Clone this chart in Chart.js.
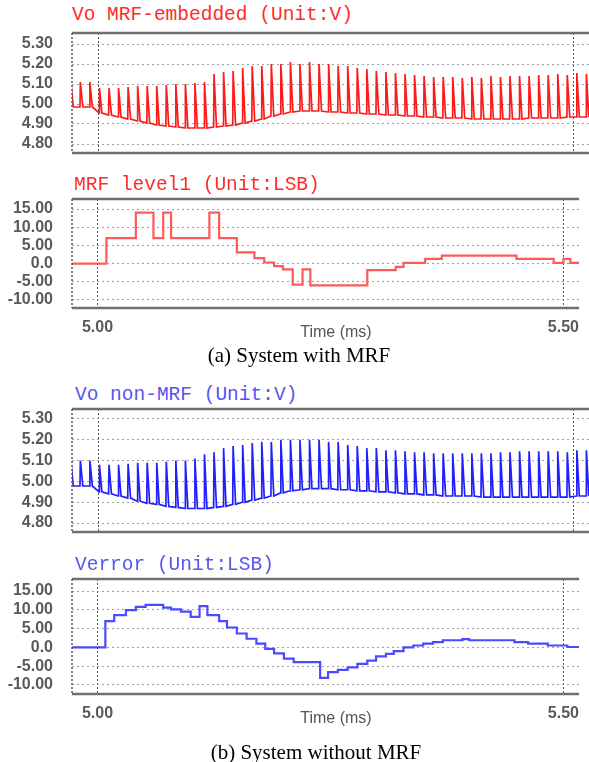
<!DOCTYPE html>
<html>
<head>
<meta charset="utf-8">
<script src="https://cdn.jsdelivr.net/npm/chart.js@4.4.1/dist/chart.umd.min.js"></script>
<style>
  body { margin: 0; background: #fff; }
  #page { position: relative; width: 589px; height: 762px; overflow: hidden; }
  canvas { position: absolute; left: 0; }
  .ttl { position: absolute; font-family: "Liberation Mono", "Courier New", monospace; font-size: 19.5px; line-height: 1; white-space: pre; }
  .red { color: #ff2b2b; }
  .blue { color: #5555f0; }
  .xname { position: absolute; font-family: "Liberation Sans", Arial, sans-serif; font-size: 16px; color: #555; transform: translate(-50%, -50%); white-space: nowrap; }
  .cap { position: absolute; font-family: "Liberation Serif", "Times New Roman", serif; font-size: 21px; color: #000; transform: translate(-50%, -50%); white-space: nowrap; }
</style>
</head>
<body>
<div id="page">
  <div class="ttl red" style="left:72px; top:6px;">Vo MRF-embedded (Unit:V)</div>
  <canvas id="vMrf" width="589" height="180" style="top:3px"></canvas>

  <div class="ttl red" style="left:74px; top:176px;">MRF level1 (Unit:LSB)</div>
  <canvas id="mrfLvl" width="589" height="169" style="top:169px"></canvas>
  <div class="xname" style="left:336px; top:332px;">Time (ms)</div>
  <div class="cap" style="left:299px; top:355px;">(a) System with MRF</div>

  <div class="ttl blue" style="left:75px; top:386px;">Vo non-MRF (Unit:V)</div>
  <canvas id="vPlain" width="589" height="183" style="top:379px"></canvas>

  <div class="ttl blue" style="left:75px; top:556px;">Verror (Unit:LSB)</div>
  <canvas id="vErr" width="589" height="175" style="top:549px"></canvas>
  <div class="xname" style="left:336px; top:718px;">Time (ms)</div>
  <div class="cap" style="left:316px; top:752px;">(b) System without MRF</div>
</div>

<script>
// time window and ticks (ms)
const xRange = [4.9726, 5.5168];
const xTicks = [5.00, 5.50];
const voTicks = [5.30, 5.20, 5.10, 5.00, 4.90, 4.80];
const lsbTicks = [15, 10, 5, 0, -5, -10];

// switching cycles of Vo: first edge and period (ms)
const cycleStart = 4.97095;
const cyclePeriod = 0.01005;

// ripple peak / valley per switching cycle (V)
const voMrfPeak = [5.11, 5.11, 5.11, 5.08, 5.08, 5.08, 5.085, 5.09, 5.09, 5.09,
  5.095, 5.10, 5.10, 5.105, 5.11, 5.15, 5.16, 5.165, 5.18, 5.19,
  5.19, 5.20, 5.20, 5.21, 5.20, 5.21, 5.20, 5.20, 5.19, 5.19,
  5.18, 5.175, 5.165, 5.16, 5.155, 5.15, 5.145, 5.14, 5.135, 5.135,
  5.135, 5.13, 5.135, 5.13, 5.14, 5.135, 5.14, 5.14, 5.14, 5.145,
  5.145, 5.15, 5.145, 5.155, 5.15];
const voMrfValley = [4.985, 4.985, 4.985, 4.955, 4.945, 4.935, 4.925, 4.915, 4.905, 4.895,
  4.89, 4.885, 4.88, 4.88, 4.88, 4.885, 4.89, 4.895, 4.905, 4.915,
  4.925, 4.94, 4.95, 4.96, 4.965, 4.965, 4.965, 4.96, 4.96, 4.955,
  4.955, 4.95, 4.95, 4.945, 4.945, 4.94, 4.94, 4.935, 4.935, 4.93,
  4.93, 4.93, 4.925, 4.925, 4.925, 4.925, 4.925, 4.925, 4.93, 4.93,
  4.93, 4.93, 4.935, 4.935, 4.935];
const voPlainPeak = [5.10, 5.10, 5.10, 5.08, 5.08, 5.08, 5.085, 5.09, 5.09, 5.09,
  5.095, 5.10, 5.10, 5.11, 5.13, 5.14, 5.16, 5.17, 5.175, 5.185,
  5.19, 5.19, 5.20, 5.20, 5.20, 5.20, 5.20, 5.19, 5.19, 5.175,
  5.17, 5.16, 5.16, 5.15, 5.15, 5.145, 5.14, 5.14, 5.135, 5.135,
  5.135, 5.135, 5.135, 5.135, 5.135, 5.14, 5.14, 5.145, 5.145, 5.145,
  5.145, 5.145, 5.14, 5.15, 5.15];
const voPlainValley = [4.978, 4.978, 4.978, 4.95, 4.94, 4.93, 4.92, 4.905, 4.895, 4.89,
  4.88, 4.875, 4.87, 4.87, 4.87, 4.875, 4.88, 4.89, 4.90, 4.91,
  4.92, 4.93, 4.945, 4.955, 4.96, 4.965, 4.965, 4.965, 4.96, 4.96,
  4.955, 4.955, 4.95, 4.95, 4.945, 4.94, 4.94, 4.935, 4.935, 4.93,
  4.93, 4.93, 4.93, 4.925, 4.925, 4.925, 4.925, 4.925, 4.925, 4.925,
  4.925, 4.925, 4.925, 4.93, 4.93];

// MRF level1 steps: change time (ms) and level (LSB)
const mrfTime = [4.97, 5.0095, 5.0411, 5.06, 5.0705, 5.0789, 5.12, 5.1305, 5.1495, 5.1684,
  5.1789, 5.1895, 5.1989, 5.2095, 5.22, 5.2284, 5.2895, 5.32, 5.3284, 5.3516,
  5.3695, 5.4495, 5.4895, 5.50, 5.5074, 5.52];
const mrfLevel = [0, 7, 14, 7, 14, 7, 14, 7, 3.1, 1.5,
  0.3, -0.7, -1.6, -5.8, -1.6, -6.0, -1.8, -0.9, 0.2, 1.3,
  2.2, 1.3, 0.2, 1.3, 0.2, 0.2];

// Verror steps: change time (ms) and level (LSB)
const errTime = [4.97, 5.0084, 5.0179, 5.0305, 5.0411, 5.0516, 5.0705, 5.0789, 5.0895, 5.10,
  5.1095, 5.1179, 5.1305, 5.1389, 5.1495, 5.16, 5.1705, 5.18, 5.1895, 5.20,
  5.2105, 5.2389, 5.2474, 5.2579, 5.2684, 5.2789, 5.2895, 5.2989, 5.3095, 5.3179,
  5.3284, 5.3389, 5.3495, 5.36, 5.3705, 5.3916, 5.3989, 5.4474, 5.4621, 5.4832,
  5.5042, 5.52];
const errLevel = [0, 7.0, 8.6, 9.9, 10.8, 11.3, 10.6, 10.1, 9.5, 8.1,
  11.0, 8.6, 7.0, 5.3, 3.7, 2.3, 1.0, -0.4, -1.6, -3.0,
  -3.9, -8.1, -6.6, -6.0, -5.3, -4.4, -3.5, -2.4, -1.7, -1.0,
  0, 0.5, 1.0, 1.4, 1.9, 2.2, 1.9, 1.4, 1.0, 0.5,
  0.1, 0.1];

// each cycle: sharp rise at the edge, quick fall, then flat to the next edge
function ripplePoints(peaks, valleys) {
  const pts = [];
  peaks.forEach(function(p, k) {
    const t = cycleStart + k * cyclePeriod;
    pts.push({x: t, y: valleys[k]});
    pts.push({x: t + 0.0004, y: p});
    pts.push({x: t + 0.003, y: valleys[k]});
  });
  return pts;
}

function stepPoints(times, levels) {
  return times.map(function(t, i) { return {x: t, y: levels[i]}; });
}

// plot frame: solid top/bottom rails, dotted left edge
const frame = {
  id: 'frame',
  afterDraw: function(chart) {
    const ctx = chart.ctx, a = chart.chartArea;
    ctx.save();
    ctx.strokeStyle = '#6f6f6f';
    ctx.lineWidth = 2.5;
    ctx.beginPath();
    ctx.moveTo(a.left, a.top); ctx.lineTo(a.right, a.top);
    ctx.moveTo(a.left, a.bottom); ctx.lineTo(a.right, a.bottom);
    ctx.stroke();
    ctx.strokeStyle = '#555';
    ctx.lineWidth = 1.5;
    ctx.setLineDash([2, 2]);
    ctx.beginPath();
    ctx.moveTo(a.left, a.top); ctx.lineTo(a.left, a.bottom);
    ctx.stroke();
    ctx.restore();
  }
};

const tickFont = {family: '"Liberation Sans", Arial, sans-serif', size: 16, weight: 'bold'};

function panel(id, points, color, width, stepped, yMin, yMax, yTicks, showX) {
  return new Chart(document.getElementById(id), {
    type: 'line',
    data: {
      datasets: [{
        data: points,
        borderColor: color,
        borderWidth: width,
        pointRadius: 0,
        tension: 0,
        stepped: stepped
      }]
    },
    options: {
      responsive: false,
      animation: false,
      layout: {padding: {top: 30, bottom: showX ? 0 : 30, left: 0, right: 0}},
      plugins: {legend: {display: false}, tooltip: {enabled: false}},
      scales: {
        x: {
          type: 'linear',
          min: xRange[0],
          max: xRange[1],
          afterBuildTicks: function(s) { s.ticks = xTicks.map(function(v) { return {value: v}; }); },
          afterFit: function(s) { s.height = showX ? 30 : 0; },
          ticks: {
            display: showX,
            autoSkip: false,
            padding: 10,
            maxRotation: 0,
            font: tickFont,
            color: '#5a5a5a',
            callback: function(v) { return v.toFixed(2); }
          },
          grid: {color: '#555', lineWidth: 1, drawTicks: false},
          border: {display: false, dash: [2, 2]}
        },
        y: {
          min: yMin,
          max: yMax,
          afterBuildTicks: function(s) { s.ticks = yTicks.map(function(v) { return {value: v}; }); },
          afterFit: function(s) { s.width = 72; },
          ticks: {
            autoSkip: false,
            padding: 19,
            font: tickFont,
            color: '#5a5a5a',
            callback: function(v) { return v === 0 ? '0.0' : v.toFixed(2); }
          },
          grid: {color: '#a0a0a0', lineWidth: 1, drawTicks: false},
          border: {display: false, dash: [2, 3]}
        }
      }
    },
    plugins: [frame]
  });
}

panel('vMrf', ripplePoints(voMrfPeak, voMrfValley), '#ff1a1a', 1.7, false, 4.755, 5.355, voTicks, false);
panel('mrfLvl', stepPoints(mrfTime, mrfLevel), '#ff5a5a', 2.2, true, -12.2, 17.75, lsbTicks, true);
panel('vPlain', ripplePoints(voPlainPeak, voPlainValley), '#2020ff', 1.7, false, 4.757, 5.348, voTicks, false);
panel('vErr', stepPoints(errTime, errLevel), '#4a4aff', 2.2, true, -12.4, 18.2, lsbTicks, true);
</script>
</body>
</html>
